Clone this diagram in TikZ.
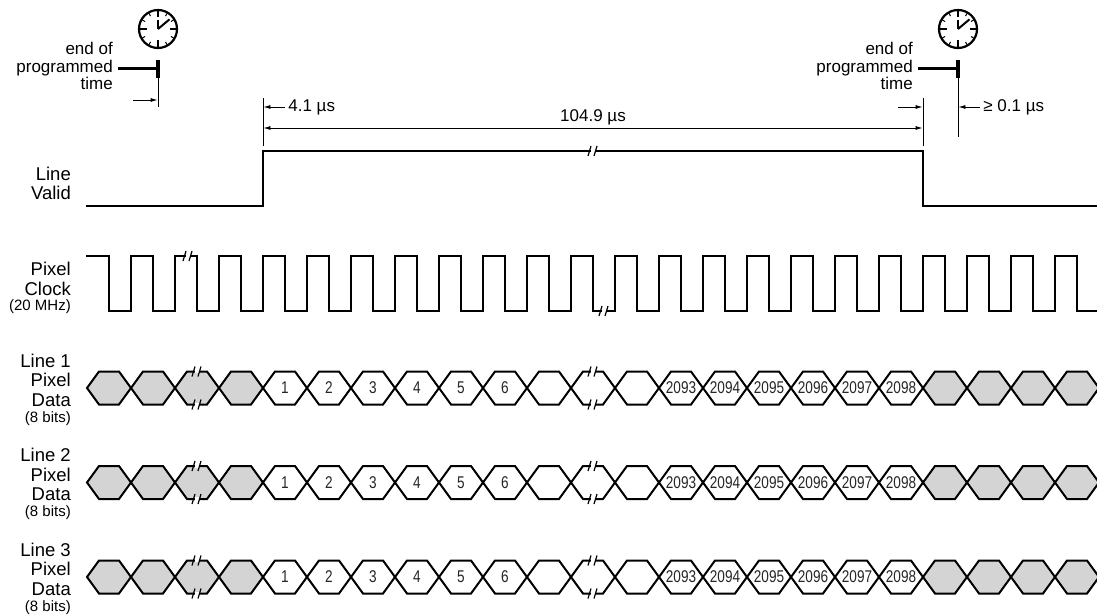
\documentclass[tikz,border=0pt]{standalone}
\usepackage{fontspec}
\setmainfont{Liberation Sans}
\newfontfamily\condfont[FakeStretch=0.8]{Liberation Sans}
\usepackage{tikz}
\usetikzlibrary{arrows.meta}

\definecolor{cellgray}{RGB}{212,212,212}

% "//" break mark at (#1,#2)
\newcommand{\brk}[2]{%
  \draw[white,line width=3.5pt] (#1-2.5,#2) -- (#1+2.5,#2);
  \draw[line width=1.2pt] (#1-5,#2+5) -- (#1-2,#2-5);
  \draw[line width=1.2pt] (#1+1,#2+5) -- (#1+4,#2-5);
}

\begin{document}
\begin{tikzpicture}
  [x=1pt,y=-1pt,>={Latex[length=7pt,width=4pt]},every node/.style={inner sep=0pt}]
  \tikzstyle{sig}=[line width=2pt,line join=miter]
  \tikzstyle{dim}=[line width=0.8pt]
  \tikzstyle{lbl}=[anchor=east,align=right,font=\fontsize{18.5}{19.5}\selectfont]
  \tikzstyle{dimlbl}=[font=\fontsize{17}{17}\selectfont]
  \tikzstyle{num}=[font=\condfont\fontsize{17}{17}\selectfont,text=black!85]
  \useasboundingbox (0,0) rectangle (1097,615);

  % clocks and end of programmed time
  \foreach \cx in {158,958} {
    \draw[line width=2.2pt] (\cx,29) circle[radius=19];
    \foreach \a in {0,90,180,270}
      \draw[line width=2.5pt] (\cx,29) ++(\a:11.5) -- ++(\a:7);
    \foreach \a in {30,60,120,150,210,240,300,330}
      \draw[line width=1pt] (\cx,29) ++(\a:15) -- ++(\a:4);
    \draw[line width=2pt] (\cx,29) -- ++(0,-9);
    \draw[line width=2pt] (\cx,29) -- ++(-40:15);
    \draw[line width=3.5pt] (\cx,60) -- (\cx,78);
  }
  \node[lbl,font=\fontsize{17}{17.5}\selectfont] (end1) at (113,66.3) {end of\\programmed\\time};
  \node[lbl,font=\fontsize{17}{17.5}\selectfont] (end2) at (913,66.3) {end of\\programmed\\time};
  \coordinate (t1) at (158,69);
  \coordinate (t2) at (958,69);
  \draw[line width=3pt] ([xshift=5pt]end1.east |- t1) -- (t1);
  \draw[line width=3pt] ([xshift=5pt]end2.east |- t2) -- (t2);

  % Line Valid
  \node[lbl] (lv) at (71,183.6) {Line\\Valid};
  \coordinate (lvr) at (263,151);
  \coordinate (lvf) at (923,151);
  \draw[sig] (86,206) -- (263,206) -- (lvr) -- (lvf) -- (923,206) -- (1097,206);
  \brk{593}{151}

  % timing marks
  \draw[dim] (158,78) -- (158,107);
  \draw[dim] (958,78) -- (958,137);
  \draw[dim] (lvr) ++(0,-5) -- ++(0,-48);
  \draw[dim] (lvf) ++(0,-5) -- ++(0,-48);
  \draw[dim,->] (133,100) -- (157.6,100);
  \draw[dim,->] (898,107) -- (922.6,107);
  \draw[dim,<-] (263.4,107) -- (285,107) node[dimlbl,anchor=west,xshift=3pt] (d41) {4.1 µs};
  \draw[dim,<-] (958.4,107) -- (980,107) node[dimlbl,anchor=west,xshift=3pt] (d01) {≥ 0.1 µs};
  \draw[dim,<->] (263.4,128) -- node[dimlbl,anchor=south,yshift=3pt] (d104) {104.9 µs} (922.6,128);

  % Pixel Clock
  \node[lbl] (pc) at (71,288) {Pixel\\Clock\\[-4pt]{\fontsize{15}{15}\selectfont (20 MHz)}};
  \draw[sig] (86,256) \foreach \k in {0,...,21} {
      -- ({108.5+44*\k},256) -- ++(0,55) -- ({131+44*\k},311) -- ++(0,-55) }
    -- (1076.5,256) -- ++(0,55) -- (1097,311);
  \brk{188}{256}
  \brk{604}{311}

  % Pixel Data rows
  \foreach \ry/\rn in {388/1,482.5/2,577/3} {
    \node[lbl] (d\rn) at (71,\ry+1.7) {Line \rn\\Pixel\\Data\\[-3.5pt]{\fontsize{15}{15}\selectfont (8 bits)}};
    \foreach \j in {0,1,2,3,19,20,21,22}
      \filldraw[sig,fill=cellgray] ({87+44*\j},\ry) -- ++(12,-16.5) -- ++(20,0) -- ++(12,16.5)
        -- ++(-12,16.5) -- ++(-20,0) -- cycle;
    \foreach \j in {4,...,18}
      \filldraw[sig,fill=white] ({87+44*\j},\ry) -- ++(12,-16.5) -- ++(20,0) -- ++(12,16.5)
        -- ++(-12,16.5) -- ++(-20,0) -- cycle;
    \foreach \j/\t in {4/1,5/2,6/3,7/4,8/5,9/6,13/2093,14/2094,15/2095,16/2096,17/2097,18/2098}
      \node[num] (c\rn-\j) at ({109+44*\j},\ry) {\t};
    \brk{197}{\ry-16.5}
    \brk{197}{\ry+16.5}
    \brk{593}{\ry-16.5}
    \brk{593}{\ry+16.5}
  }

\end{tikzpicture}
\end{document}
